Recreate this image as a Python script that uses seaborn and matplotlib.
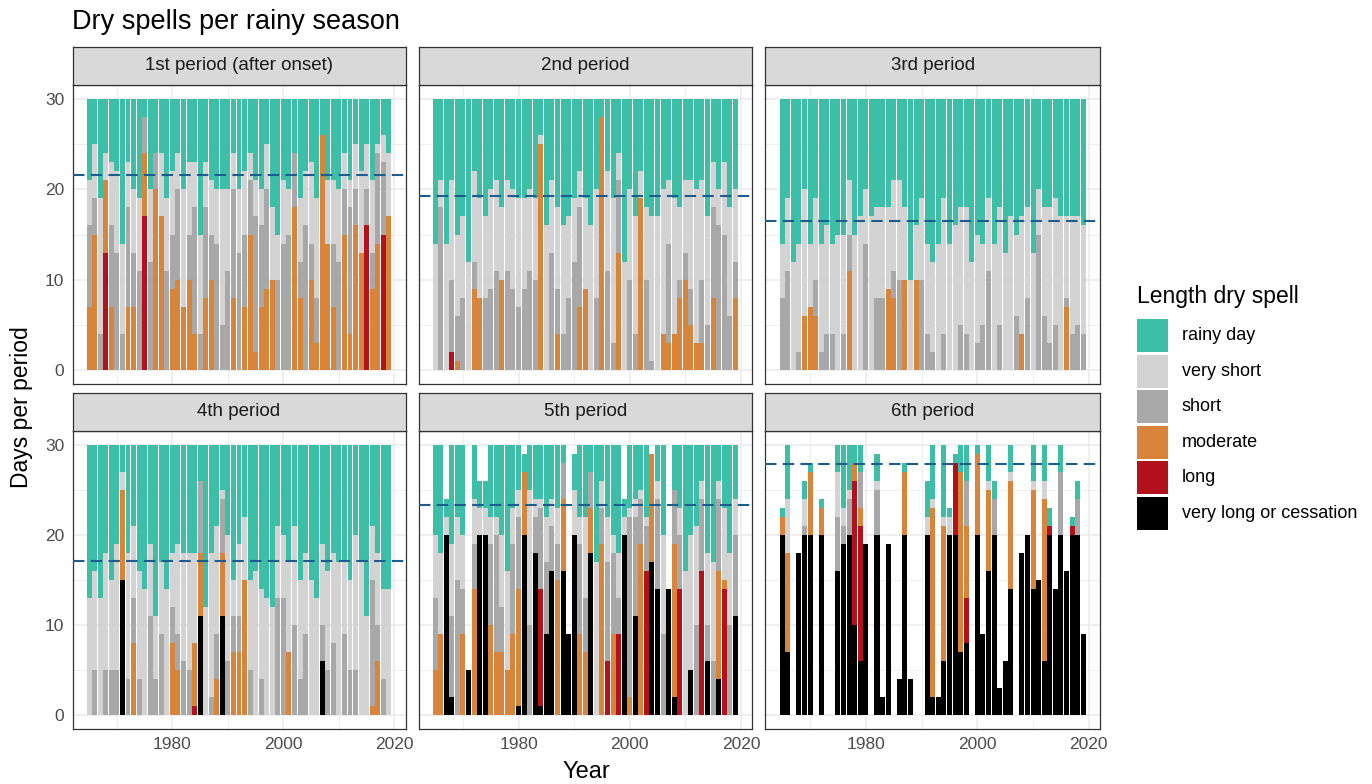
import numpy as np
import pandas as pd
import matplotlib
matplotlib.use("Agg")
import matplotlib.pyplot as plt
from matplotlib.patches import Rectangle
import seaborn as sns

sns.set_style("white")
plt.rcParams["font.family"] = ["Liberation Sans", "DejaVu Sans"]

W, H = 1372, 784

# ---------------- data ----------------
years = list(range(1965, 2020))
legend_order = ["rainy day", "very short", "short", "moderate", "long", "very long or cessation"]
stack_order = ["very long or cessation", "long", "moderate", "short", "very short", "rainy day"]
cat_colors = {
    "rainy day": "#3CBEA7",
    "very short": "#D3D3D3",
    "short": "#A8A8A8",
    "moderate": "#D8843A",
    "long": "#B3121C",
    "very long or cessation": "#000000",
}
period_titles = ["1st period (after onset)", "2nd period", "3rd period",
                 "4th period", "5th period", "6th period"]
dashed_levels = [21.6, 19.3, 16.5, 17.1, 23.3, 27.9]
x_ticks = [1980, 2000, 2020]
x_minor = [1970, 1990, 2010]
y_ticks = [0, 10, 20, 30]
y_minor = [5, 15, 25]

# ---- 1st period ----
p1_verylong = [0,0,0,0,0,0,0,0,0,0, 0,0,0,0,0,0,0,0,0,0, 0,0,0,0,0,0,0,0,0,0,
               0,0,0,0,0,0,0,0,0,0, 0,0,0,0,0,0,0,0,0,0, 0,0,0,0,0]
p1_long = [0,0,0,13,0,0,0,0,0,0, 17,0,0,0,0,0,0,0,0,0, 0,0,0,0,0,0,0,0,0,0,
           0,0,0,0,0,0,0,0,0,0, 0,0,0,0,0,0,0,0,0,0, 16,0,0,15,0]
p1_moderate = [7,15,0,8,7,0,0,7,7,0, 7,0,20,17,0,9,10,7,10,4, 0,8,10,0,0,0,8,0,7,15,
               2,7,9,10,0,0,0,18,8,0, 10,3,26,14,7,0,15,4,16,13, 0,9,14,0,17]
p1_short = [9,4,4,0,9,13,4,11,6,11, 4,12,4,0,11,6,10,0,5,14, 4,10,5,14,5,11,12,13,8,6,
            15,9,11,0,10,14,15,6,4,16, 4,5,0,0,7,12,5,14,4,0, 4,4,10,8,0]
p1_veryshort = [5,6,15,3,7,9,10,5,7,8, 0,8,0,7,8,7,4,13,8,5, 11,5,6,6,15,9,4,7,7,3,
                4,4,5,8,5,7,5,0,7,6, 9,11,0,7,7,8,4,3,5,9, 5,8,1,3,7]
p1_rainy = [9,5,11,6,7,8,16,7,10,11, 2,10,6,6,11,8,6,10,7,7, 15,7,9,10,10,10,6,10,8,6,
            9,10,5,12,15,9,10,6,11,8, 7,11,4,9,9,10,6,9,5,8, 5,9,5,4,6]

# ---- 2nd period ----
p2_verylong = [0,0,0,0,0,0,0,0,0,0, 0,0,0,0,0,0,0,0,0,0, 0,0,0,0,0,0,0,0,0,0,
               0,0,0,0,0,0,0,0,0,0, 0,0,0,0,0,0,0,0,0,0, 0,0,0,0,0]
p2_long = [0,0,0,2,0,0,0,0,0,0, 0,0,0,0,0,0,0,0,0,0, 0,0,0,0,0,0,0,0,0,0,
           0,0,0,0,0,0,0,0,0,0, 0,0,0,0,0,0,0,0,0,0, 0,0,0,0,0]
p2_moderate = [0,0,0,0,1,0,0,9,8,0, 0,0,10,0,0,0,0,0,0,25, 0,0,4,0,0,0,7,9,0,0,
               28,0,0,13,0,0,0,19,0,0, 0,4,3,4,8,10,5,3,3,0, 8,0,0,0,8]
p2_short = [0,18,0,8,5,8,0,3,0,8, 9,11,0,11,9,7,9,11,10,0, 0,13,5,4,8,12,11,0,0,8,
            0,11,3,8,0,10,4,0,10,1, 0,0,11,0,2,3,4,0,7,5, 10,16,15,6,4]
p2_veryshort = [14,3,14,11,9,9,12,10,11,9, 11,10,8,10,11,12,10,9,9,1, 16,8,9,12,9,7,4,10,16,12,
                0,11,16,3,12,10,13,3,8,16, 17,16,7,15,8,8,12,17,11,12, 5,4,8,12,8]
p2_rainy = [16,9,16,9,15,13,18,8,11,13, 10,9,12,9,10,11,11,10,11,4, 14,9,12,14,13,11,8,11,14,10,
            2,8,11,6,18,10,13,8,12,13, 13,10,9,11,12,9,9,10,9,13, 7,10,7,12,10]

# ---- 3rd period ----
p3_verylong = [0,0,0,0,0,0,0,0,0,0, 0,0,0,0,0,0,0,0,0,0, 0,0,0,0,0,0,0,0,0,0,
               0,0,0,0,0,0,0,0,0,0, 0,0,0,0,0,0,0,0,0,0, 0,0,0,0,0]
p3_long = [0,0,0,0,0,0,0,0,0,0, 0,0,0,0,0,0,0,0,0,0, 0,0,0,0,0,0,0,0,0,0,
           0,0,0,0,0,0,0,0,0,0, 0,0,0,0,0,0,0,0,0,0, 0,0,0,0,0]
p3_moderate = [0,0,0,0,6,7,6,0,0,0, 0,0,11,0,0,0,0,0,0,9, 8,0,10,0,10,0,0,0,0,0,
               0,0,0,0,0,0,0,0,0,0, 0,0,0,4,0,0,0,0,0,0, 0,7,0,0,0]
p3_short = [8,11,0,2,0,0,4,2,4,4, 0,4,4,0,0,14,0,8,8,0, 3,10,0,0,0,10,4,2,0,4,
            0,0,5,4,0,3,5,11,0,5, 0,0,6,0,8,0,15,6,3,5, 0,1,4,5,4]
p3_veryshort = [6,8,12,12,14,7,9,12,12,10, 15,11,6,15,17,6,17,10,10,9, 10,11,8,10,6,9,10,10,14,15,
                14,16,13,14,12,12,9,8,14,13, 13,17,9,13,10,13,5,12,15,14, 17,9,13,12,12]
p3_rainy = [16,11,18,16,10,16,11,16,14,16, 15,15,9,15,13,10,13,12,12,12, 9,9,12,20,14,11,16,18,16,11,
            16,14,12,12,18,15,16,11,16,12, 17,13,15,13,12,17,10,12,12,11, 13,13,13,13,14]

# ---- 4th period ----
p4_verylong = [0,0,0,0,0,0,15,0,0,0, 0,0,0,0,0,0,0,0,0,0, 11,0,0,0,11,0,0,0,0,0,
               0,0,0,0,0,0,0,0,0,0, 0,0,6,0,0,0,0,0,0,0, 0,0,0,0,0]
p4_long = [0,0,0,0,0,0,0,0,0,0, 0,0,0,0,0,0,0,0,0,1, 0,0,0,0,0,0,0,0,0,0,
           0,0,0,0,0,0,0,0,0,0, 0,0,0,0,0,0,0,0,0,0, 0,0,0,0,0]
p4_moderate = [0,0,0,0,0,0,10,0,8,0, 0,0,0,0,0,8,5,0,0,7, 7,0,0,4,7,0,7,7,15,0,
               0,0,0,0,0,0,7,0,0,0, 0,0,0,0,0,0,0,0,0,0, 0,1,6,0,0]
p4_short = [0,5,0,5,5,5,0,4,5,4, 0,11,4,9,0,4,4,6,5,0, 8,0,2,5,6,6,4,4,0,5,
            0,4,0,0,13,13,0,10,4,9, 0,0,4,5,8,0,9,5,5,0, 0,14,4,4,0]
p4_veryshort = [13,11,13,13,10,14,2,14,8,12, 14,8,7,8,14,6,10,12,13,10, 0,12,16,12,1,14,4,8,7,10,
                16,10,13,12,8,7,10,11,11,9, 15,13,9,11,10,17,8,10,15,17, 11,6,8,10,14]
p4_rainy = [17,14,17,12,15,11,3,12,9,14, 16,11,19,13,16,12,11,12,12,12, 4,18,12,9,5,10,15,11,8,15,
            14,16,17,18,9,10,13,9,15,12, 15,17,11,14,12,13,13,15,10,13, 19,9,12,16,16]

# ---- 5th period ----
p5_verylong = [0,0,20,2,0,0,5,0,20,20, 0,0,0,0,0,1,20,0,18,1, 9,16,0,16,9,20,0,0,18,0,
               0,0,0,0,20,0,11,0,0,17, 14,0,14,2,0,0,5,0,0,6, 0,4,0,0,11]
p5_long = [0,0,0,0,0,0,0,0,0,0, 0,0,0,0,0,0,0,0,0,13, 0,0,0,0,0,0,0,0,0,0,
           0,6,0,9,0,0,0,0,16,0, 0,0,0,0,14,0,0,0,16,0, 0,0,14,0,0]
p5_moderate = [5,9,0,0,0,9,0,14,0,0, 10,7,7,5,9,13,7,0,0,0, 0,0,15,8,0,0,9,7,5,0,
               19,0,9,0,0,2,0,19,0,12, 0,0,0,17,0,0,0,0,0,0, 0,12,1,0,0]
p5_short = [8,0,0,9,15,5,0,5,0,0, 9,13,5,0,10,8,0,10,4,9, 8,5,4,4,0,0,10,6,4,0,
            4,11,9,4,0,20,11,5,5,0, 10,9,0,6,6,0,0,10,8,4, 6,8,0,10,9]
p5_veryshort = [7,9,2,8,7,6,0,5,3,3, 3,2,8,11,4,3,0,15,2,1, 5,3,4,0,0,5,3,9,0,17,
                3,5,2,5,2,1,2,1,1,0, 2,11,0,0,3,16,15,11,2,8, 11,2,8,8,4]
p5_rainy = [10,12,2,11,8,10,0,6,3,3, 8,8,10,14,7,5,2,5,6,6, 8,6,7,2,0,4,8,8,3,13,
            4,8,10,12,2,7,6,5,8,0, 4,10,0,5,7,14,10,9,4,12, 13,4,7,12,6]

# ---- 6th period ----
p6_verylong = [20,7,0,18,20,20,0,20,0,0, 16,19,20,10,6,19,0,20,2,19, 0,4,20,4,0,0,20,2,2,6,
               20,20,7,8,0,20,9,16,20,3, 6,14,0,18,20,14,15,6,20,14, 20,16,20,20,9]
p6_long = [0,0,0,0,0,0,0,0,0,0, 0,0,0,16,15,0,0,0,0,0, 0,0,0,0,0,0,0,0,0,0,
           0,8,0,5,0,0,0,0,0,0, 0,0,0,0,0,0,0,0,1,0, 0,0,1,0,0]
p6_moderate = [2,11,0,0,0,7,0,3,0,0, 0,0,0,2,2,0,0,0,0,0, 0,0,7,0,0,0,0,21,0,15,
               0,0,20,8,0,9,0,9,0,0, 0,12,0,0,0,11,0,18,0,0, 0,0,0,0,0]
p6_short = [0,0,0,0,1,0,0,0,0,0, 6,2,4,0,4,0,0,5,0,0, 0,0,0,0,0,0,0,0,0,0,
            0,0,0,5,0,0,0,0,4,0, 0,0,0,0,0,0,0,0,0,0, 7,0,0,4,0]
p6_veryshort = [0,6,0,0,3,0,0,0,0,0, 5,2,1,0,0,0,0,1,0,0, 0,0,0,0,0,0,2,1,0,1,
                2,0,0,0,0,0,0,1,0,0, 0,1,0,0,0,1,0,2,0,0, 0,0,0,0,0]
p6_rainy = [1,6,0,0,2,1,0,1,0,0, 3,7,5,2,3,0,0,3,0,0, 0,0,1,0,0,0,4,6,0,8,
            1,1,3,4,0,1,0,4,2,0, 0,3,0,0,0,4,0,4,2,0, 3,0,1,2,0]

panels = [
    [p1_verylong, p1_long, p1_moderate, p1_short, p1_veryshort, p1_rainy],
    [p2_verylong, p2_long, p2_moderate, p2_short, p2_veryshort, p2_rainy],
    [p3_verylong, p3_long, p3_moderate, p3_short, p3_veryshort, p3_rainy],
    [p4_verylong, p4_long, p4_moderate, p4_short, p4_veryshort, p4_rainy],
    [p5_verylong, p5_long, p5_moderate, p5_short, p5_veryshort, p5_rainy],
    [p6_verylong, p6_long, p6_moderate, p6_short, p6_veryshort, p6_rainy],
]

# ---------------- layout ----------------
fig = plt.figure(figsize=(W / 100, H / 100), dpi=100)
fig.patch.set_facecolor("white")

col_x = [(72.5, 405.5), (418.5, 752), (765.5, 1100)]
row_y = [(85, 384), (431, 729)]
strip_h = 38.5


def add_px_axes(x0, y0, x1, y1):
    return fig.add_axes([x0 / W, 1 - y1 / H, (x1 - x0) / W, (y1 - y0) / H])


frame_col = "#333333"
for i, layers in enumerate(panels):
    r, c = divmod(i, 3)
    x0, x1 = col_x[c]
    y0, y1 = row_y[r]
    ax = add_px_axes(x0, y0, x1, y1)
    ax.set_axisbelow(True)

    tops = np.cumsum(np.array(layers, dtype=float), axis=0)
    for cat, top in reversed(list(zip(stack_order, tops))):
        df = pd.DataFrame({"year": years, "days": top})
        sns.barplot(data=df, x="year", y="days", native_scale=True, width=0.9,
                    color=cat_colors[cat], saturation=1, errorbar=None,
                    orient="x", linewidth=0, ax=ax)

    ax.axhline(dashed_levels[i], color="#1D5C8E", lw=1.5, ls=(0, (5.5, 3)), zorder=4)

    ax.set_xlim(1962.0, 2022.0)
    ax.set_ylim(-1.5, 31.5)
    ax.set_xticks(x_ticks)
    ax.set_xticks(x_minor, minor=True)
    ax.set_yticks(y_ticks)
    ax.set_yticks(y_minor, minor=True)
    ax.grid(which="major", color="#EBEBEB", lw=1.1)
    ax.grid(which="minor", color="#EBEBEB", lw=0.55)
    ax.set_xlabel("")
    ax.set_ylabel("")
    for s in ax.spines.values():
        s.set_color(frame_col)
        s.set_linewidth(0.9)
    ax.tick_params(which="minor", length=0)
    ax.tick_params(which="major", length=3.5, width=0.9, color=frame_col,
                   labelcolor="#4D4D4D", labelsize=12.5, pad=2.5)
    if c != 0:
        ax.tick_params(axis="y", left=False, labelleft=False)
    if r == 0:
        ax.tick_params(axis="x", bottom=False, labelbottom=False)

    sax = add_px_axes(x0, y0 - strip_h, x1, y0)
    sax.set_facecolor("#D9D9D9")
    sax.set_xticks([])
    sax.set_yticks([])
    for s in sax.spines.values():
        s.set_color(frame_col)
        s.set_linewidth(0.9)
    sax.text(0.5, 0.5, period_titles[i], ha="center", va="center",
             fontsize=13.5, color="#1A1A1A", transform=sax.transAxes)

# titles
fig.text(72 / W, 1 - 22 / H, "Dry spells per rainy season", ha="left", va="center",
         fontsize=19.5, color="black")
fig.text(586 / W, 1 - 772 / H, "Year", ha="center", va="center", fontsize=17, color="black")
fig.text(22 / W, 1 - 407 / H, "Days per period", ha="center", va="center",
         rotation=90, fontsize=16.5, color="black")

# legend
lax = fig.add_axes([0, 0, 1, 1])
lax.set_xlim(0, W)
lax.set_ylim(H, 0)
lax.axis("off")
lax.text(1137, 296, "Length dry spell", ha="left", va="center", fontsize=16.5, color="black")
for j, cat in enumerate(legend_order):
    top = 319 + 35.5 * j
    lax.add_patch(Rectangle((1137, top), 31, 33, facecolor=cat_colors[cat], edgecolor="none"))
    lax.text(1182, top + 16.5, cat, ha="left", va="center", fontsize=13, color="black")

fig.savefig("out.png", dpi=100, facecolor="white")
